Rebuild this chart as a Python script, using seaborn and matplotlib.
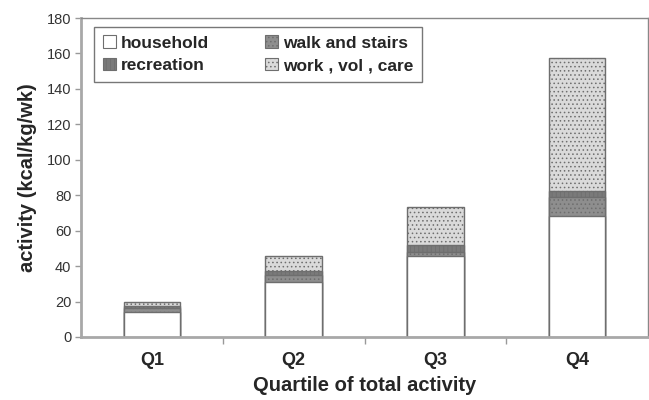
import matplotlib
matplotlib.use("Agg")
import matplotlib.pyplot as plt
import seaborn as sns
import pandas as pd
import numpy as np
from matplotlib.patches import Patch

quartiles = ["Q1", "Q2", "Q3", "Q4"]
household = [14.0, 31.0, 45.5, 68.0]
walk_stairs = [2.5, 4.0, 2.5, 11.0]
recreation = [1.0, 2.2, 3.8, 3.3]
work_vol_care = [2.0, 8.5, 21.7, 75.0]

series_names = ["household", "walk and stairs", "recreation", "work, vol, care"]
series_vals = [household, walk_stairs, recreation, work_vol_care]
styles = {
    "household": dict(color="white", hatch=None),
    "walk and stairs": dict(color="#8e8e8e", hatch="...."),
    "recreation": dict(color="#7a7a7a", hatch="||||"),
    "work, vol, care": dict(color="#dadada", hatch="...."),
}

sns.set_style("white")
plt.rcParams["font.family"] = ["Liberation Sans", "DejaVu Sans"]
plt.rcParams["hatch.linewidth"] = 0.6

fig = plt.figure(figsize=(6.49, 4.00), dpi=100)
ax = fig.add_axes([81 / 649, 63 / 400, 567 / 649, 319 / 400])

cum = np.cumsum(np.array(series_vals), axis=0)
for i in range(len(series_names) - 1, -1, -1):
    name = series_names[i]
    df = pd.DataFrame({"q": quartiles, "v": cum[i]})
    st = styles[name]
    sns.barplot(data=df, x="q", y="v", ax=ax, color=st["color"], width=0.4,
                edgecolor="#6e6e6e", linewidth=1.0, saturation=1, errorbar=None,
                hatch=st["hatch"])

ax.set_ylim(0, 180)
ax.set_xlim(-0.5, 3.5)
ax.set_yticks(np.arange(0, 181, 20))
ax.tick_params(axis="y", left=True, length=4, width=1, color="#999999",
               labelsize=10.5, labelcolor="#333333", pad=3)
ax.set_xticks(range(4))
ax.set_xticklabels(quartiles, fontweight="bold", fontsize=13)
ax.tick_params(axis="x", bottom=False, pad=7)
ax.set_xticks([0.5, 1.5, 2.5], minor=True)
ax.tick_params(axis="x", which="minor", bottom=True, length=5, width=1, color="#999999")

for s in ["left", "bottom"]:
    ax.spines[s].set_color("#a8a8a8")
    ax.spines[s].set_linewidth(2)
for s in ["top", "right"]:
    ax.spines[s].set_color("#888888")
    ax.spines[s].set_linewidth(1)

ax.set_ylabel("activity (kcal/kg/wk)", fontweight="bold", fontsize=14.5, labelpad=7)
ax.set_xlabel("Quartile of total activity", fontweight="bold", fontsize=14.5, labelpad=5)

order = ["household", "recreation", "walk and stairs", "work, vol, care"]
labels = {"household": "household", "recreation": "recreation",
          "walk and stairs": "walk and stairs", "work, vol, care": "work , vol , care"}
handles = [Patch(facecolor=styles[n]["color"], edgecolor="#6e6e6e",
                 hatch=styles[n]["hatch"], linewidth=0.8) for n in order]
leg = ax.legend(handles, [labels[n] for n in order], ncol=2, loc="upper left",
                bbox_to_anchor=(0.023, 0.973), borderaxespad=0, frameon=True,
                fancybox=False, edgecolor="#555555", prop=dict(weight="bold", size=12.5),
                handlelength=0.75, handleheight=0.75, handletextpad=0.3,
                columnspacing=3.2, borderpad=0.5, labelspacing=0.4)
leg.get_frame().set_linewidth(1)

fig.savefig("out.png", dpi=100)
